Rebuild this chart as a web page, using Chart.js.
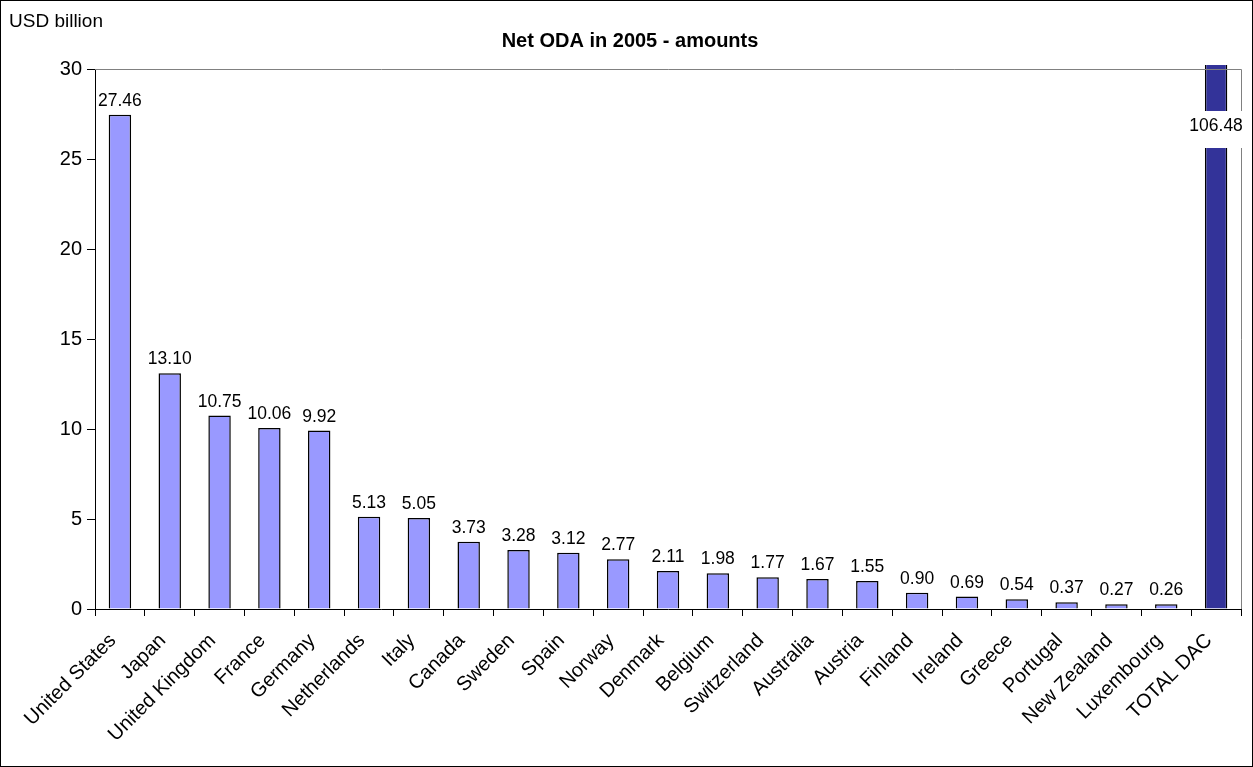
<!DOCTYPE html>
<html>
<head>
<meta charset="utf-8">
<script src="https://cdn.jsdelivr.net/npm/chart.js@4/dist/chart.umd.min.js"></script>
<style>
  html, body { margin: 0; padding: 0; background: #fff; }
  #wrap { width: 1253px; height: 767px; }
</style>
</head>
<body>
<div id="wrap"><canvas id="odaChart" width="1253" height="767"></canvas></div>
<script>
// Net ODA 2005 by donor, USD billion
const donors = ["United States", "Japan", "United Kingdom", "France", "Germany", "Netherlands",
  "Italy", "Canada", "Sweden", "Spain", "Norway", "Denmark", "Belgium", "Switzerland",
  "Australia", "Austria", "Finland", "Ireland", "Greece", "Portugal", "New Zealand",
  "Luxembourg", "TOTAL DAC"];
const amounts = [27.46, 13.10, 10.75, 10.06, 9.92, 5.13, 5.05, 3.73, 3.28, 3.12, 2.77, 2.11,
  1.98, 1.77, 1.67, 1.55, 0.90, 0.69, 0.54, 0.37, 0.27, 0.26, 106.48];
const yTicks = [0, 5, 10, 15, 20, 25, 30];

const FONT = "'Liberation Sans', Arial, sans-serif";

// draws value labels, title, unit text, plot border and frame
const decorations = {
  id: 'decorations',
  beforeDraw(chart) {
    const ctx = chart.ctx;
    ctx.save();
    ctx.fillStyle = '#fff';
    ctx.fillRect(0, 0, chart.width, chart.height);
    ctx.restore();
  },
  afterDatasetsDraw(chart) {
    const ctx = chart.ctx;
    const area = chart.chartArea;
    const meta = chart.getDatasetMeta(0);
    ctx.save();
    // plot border top/right
    ctx.strokeStyle = '#808080';
    ctx.lineWidth = 1;
    ctx.beginPath();
    ctx.moveTo(area.left, Math.round(area.top) + 0.5);
    ctx.lineTo(Math.round(area.right) + 0.5, Math.round(area.top) + 0.5);
    ctx.lineTo(Math.round(area.right) + 0.5, area.bottom);
    ctx.stroke();

    ctx.font = '17.5px ' + FONT;
    ctx.fillStyle = '#000';
    ctx.textAlign = 'center';
    meta.data.forEach((bar, i) => {
      const txt = amounts[i].toFixed(2);
      if (bar.y < area.top) {
        // clipped bar: label in a white box near the top
        const w = ctx.measureText(txt).width + 14;
        ctx.fillStyle = '#fff';
        ctx.fillRect(bar.x - w / 2, area.top + 42, w, 37);
        ctx.fillStyle = '#000';
        ctx.textBaseline = 'middle';
        ctx.fillText(txt, bar.x, area.top + 57);
      } else {
        ctx.textBaseline = 'bottom';
        ctx.fillText(txt, bar.x, bar.y - 5);
      }
    });

    ctx.textBaseline = 'middle';
    ctx.font = 'bold 20px ' + FONT;
    ctx.fillText('Net ODA in 2005 - amounts', 630, 41);
    ctx.textAlign = 'left';
    ctx.font = '19px ' + FONT;
    ctx.fillText('USD billion', 9, 22);

    ctx.strokeStyle = '#000';
    ctx.strokeRect(0.5, 0.5, chart.width - 1, chart.height - 1);
    ctx.restore();
  }
};

new Chart(document.getElementById('odaChart').getContext('2d'), {
  type: 'bar',
  data: {
    labels: donors,
    datasets: [{
      data: amounts,
      backgroundColor: donors.map((d, i) => i === donors.length - 1 ? '#333399' : '#9999FF'),
      borderColor: '#000',
      borderWidth: 1.5,
      borderSkipped: 'bottom',
      barPercentage: 0.45,
      categoryPercentage: 1.0,
      clip: { left: 0, top: 4, right: 0, bottom: 0 }
    }]
  },
  options: {
    responsive: false,
    animation: false,
    layout: { padding: { top: 69, right: 12, left: 0, bottom: 0 } },
    plugins: { legend: { display: false }, title: { display: false }, tooltip: { enabled: false } },
    scales: {
      x: {
        grid: { offset: true, drawOnChartArea: false, tickLength: 7, color: '#000' },
        border: { color: '#000' },
        ticks: {
          autoSkip: false, maxRotation: 45, minRotation: 45, color: '#000',
          font: { family: FONT, size: 20 }, padding: 13, labelOffset: -7
        },
        afterFit(scale) { scale.height = 158; }
      },
      y: {
        min: 0, max: 30,
        afterBuildTicks(scale) { scale.ticks = yTicks.map(v => ({ value: v })); },
        grid: { drawOnChartArea: false, tickLength: 8, color: '#000' },
        border: { color: '#000' },
        ticks: { color: '#000', font: { family: FONT, size: 20 }, padding: 5 },
        afterFit(scale) { scale.width = 95; }
      }
    }
  },
  plugins: [decorations]
});
</script>
</body>
</html>
